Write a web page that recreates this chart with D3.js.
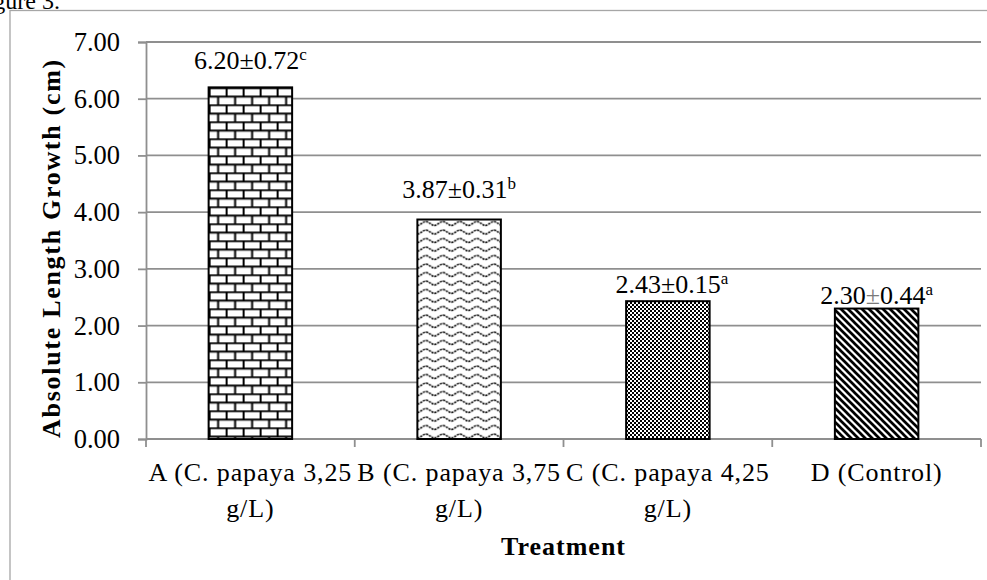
<!DOCTYPE html>
<html>
<head>
<meta charset="utf-8">
<script src="https://cdn.jsdelivr.net/npm/d3@7"></script>
<style>
  html, body { margin: 0; padding: 0; background: #fff; }
  svg { display: block; }
  text { font-family: "Liberation Serif", "Times New Roman", serif; fill: #000; }
</style>
</head>
<body>
<svg id="chart" width="987" height="580"></svg>
<script>
// ---------------- data ----------------
const categories = ["A (C. papaya 3,25 g/L)", "B (C. papaya 3,75 g/L)", "C (C. papaya 4,25 g/L)", "D (Control)"];
const means = [6.20, 3.87, 2.43, 2.30];
const sds = [0.72, 0.31, 0.15, 0.44];
const letters = ["c", "b", "a", "a"];
const yTicks = [0, 1, 2, 3, 4, 5, 6, 7];
const yTitle = "Absolute Length Growth (cm)";
const xTitle = "Treatment";
const captionText = "Figure 3.";

// ---------------- style ----------------
const patternIds = ["brick", "wave", "checker", "diag"];
const labelGap = [18, 22, 8, 5];
const labelDx = [0, 0, 4, 0];
const grid = "#8f8f8f";

const svg = d3.select("#chart");
const plot = { left: 146, right: 981, top: 42, bottom: 439 };

const x = d3.scaleBand().domain(categories).range([plot.left, plot.right])
  .paddingInner(0.6).paddingOuter(0.3);
const y = d3.scaleLinear().domain([0, 7]).range([plot.bottom, plot.top]);

// patterns
const defs = svg.append("defs");
// brick
const pb = defs.append("pattern").attr("id", "brick").attr("patternUnits", "userSpaceOnUse")
  .attr("width", 17).attr("height", 17).attr("x", x(categories[0])).attr("y", y(means[0]));
pb.append("rect").attr("width", 17).attr("height", 17).attr("fill", "#fff");
pb.append("path").attr("d", "M0,0.8H17M0,9.3H17M1,0V9.3M9.5,9.3V17")
  .attr("stroke", "#000").attr("stroke-width", 2).attr("fill", "none");
// wave
const pw = defs.append("pattern").attr("id", "wave").attr("patternUnits", "userSpaceOnUse")
  .attr("width", 17).attr("height", 8.5).attr("x", x(categories[1])).attr("y", y(means[1]));
pw.append("rect").attr("width", 17).attr("height", 8.5).attr("fill", "#fff");
pw.append("path").attr("d", "M0,6 C2.8,6 5.6,2 8.5,2 S14.2,6 17,6")
  .attr("stroke", "#000").attr("stroke-width", 1.5).attr("stroke-dasharray", "2.2,1").attr("fill", "none");
// checker
const pc = defs.append("pattern").attr("id", "checker").attr("patternUnits", "userSpaceOnUse")
  .attr("width", 4).attr("height", 4);
pc.append("rect").attr("width", 4).attr("height", 4).attr("fill", "#fff");
pc.append("rect").attr("width", 2).attr("height", 2).attr("fill", "#000");
pc.append("rect").attr("x", 2).attr("y", 2).attr("width", 2).attr("height", 2).attr("fill", "#000");
// diagonal
const pd = defs.append("pattern").attr("id", "diag").attr("patternUnits", "userSpaceOnUse")
  .attr("width", 7).attr("height", 7);
pd.append("rect").attr("width", 7).attr("height", 7).attr("fill", "#fff");
pd.append("path").attr("d", "M-1,-1L8,8M-1,6L1,8M6,-1L8,1")
  .attr("stroke", "#000").attr("stroke-width", 2.7).attr("fill", "none");

// outer frame
svg.append("rect").attr("x", 10).attr("y", 10.5).attr("width", 1000).attr("height", 600)
  .attr("fill", "none").attr("stroke", "#a6a6a6").attr("stroke-width", 1.3);

// caption (cropped at the top, as in the source)
svg.append("text").attr("x", 60).attr("y", 9).attr("text-anchor", "end")
  .attr("font-size", 24).text(captionText);

// gridlines
svg.append("g").selectAll("line").data(yTicks.filter(d => d > 0)).join("line")
  .attr("x1", plot.left).attr("x2", plot.right)
  .attr("y1", d => y(d)).attr("y2", d => y(d))
  .attr("stroke", grid).attr("stroke-width", 1.8);

// y axis
const yAxis = svg.append("g").attr("transform", `translate(${plot.left},0)`)
  .call(d3.axisLeft(y).tickValues(yTicks).tickFormat(d3.format(".2f")).tickSize(8).tickPadding(18));
yAxis.select(".domain").attr("stroke", grid).attr("stroke-width", 1.8);
yAxis.selectAll(".tick line").attr("stroke", grid).attr("stroke-width", 1.8);
yAxis.selectAll(".tick text").attr("font-size", 26.5).attr("font-family", "Liberation Serif").attr("fill", "#000");

// x axis line + ticks at boundaries
svg.append("line").attr("x1", plot.left).attr("x2", plot.right)
  .attr("y1", y(0)).attr("y2", y(0)).attr("stroke", grid).attr("stroke-width", 1.8);
const bounds = d3.range(categories.length + 1).map(i => plot.left + i * x.step());
svg.append("g").selectAll("line").data(bounds).join("line")
  .attr("x1", d => d).attr("x2", d => d)
  .attr("y1", y(0)).attr("y2", y(0) + 8)
  .attr("stroke", grid).attr("stroke-width", 1.8);

// bars
svg.append("g").selectAll("rect").data(categories).join("rect")
  .attr("x", d => x(d)).attr("width", x.bandwidth())
  .attr("y", (d, i) => y(means[i])).attr("height", (d, i) => y(0) - y(means[i]))
  .attr("fill", (d, i) => `url(#${patternIds[i]})`)
  .attr("stroke", "#000").attr("stroke-width", 2);

// value labels
const vl = svg.append("g").selectAll("text").data(categories).join("text")
  .attr("x", (d, i) => x(d) + x.bandwidth() / 2 + labelDx[i])
  .attr("y", (d, i) => y(means[i]) - labelGap[i])
  .attr("text-anchor", "middle").attr("font-size", 26);
vl.each(function (d, i) {
  const t = d3.select(this);
  t.append("tspan").text(means[i].toFixed(2));
  t.append("tspan").text("±").attr("fill", i === 3 ? "#7a7a7a" : "#000");
  t.append("tspan").text(sds[i].toFixed(2));
  t.append("tspan").text(letters[i]).attr("font-size", 17).attr("dy", -9);
});

// category labels (wrapped)
const cl = svg.append("g").selectAll("text").data(categories).join("text")
  .attr("x", d => x(d) + x.bandwidth() / 2).attr("y", 481)
  .attr("text-anchor", "middle").attr("font-size", 26).attr("letter-spacing", 0.9);
cl.each(function (d) {
  const t = d3.select(this);
  const words = d.split(" ");
  let line = [];
  let ts = t.append("tspan").attr("x", x(d) + x.bandwidth() / 2).attr("dy", 0);
  words.forEach(w => {
    line.push(w);
    ts.text(line.join(" "));
    if (ts.node().getComputedTextLength() > x.step() && line.length > 1) {
      line.pop();
      ts.text(line.join(" "));
      line = [w];
      ts = t.append("tspan").attr("x", x(d) + x.bandwidth() / 2).attr("dy", 36).text(w);
    }
  });
});

// axis titles
svg.append("text").attr("transform", "translate(60,248) rotate(-90)")
  .attr("text-anchor", "middle").attr("font-size", 26).attr("font-weight", "bold")
  .attr("letter-spacing", 1.7).text(yTitle);
svg.append("text").attr("x", (plot.left + plot.right) / 2).attr("y", 555)
  .attr("text-anchor", "middle").attr("font-size", 26).attr("font-weight", "bold")
  .attr("letter-spacing", 1).text(xTitle);
</script>
</body>
</html>
